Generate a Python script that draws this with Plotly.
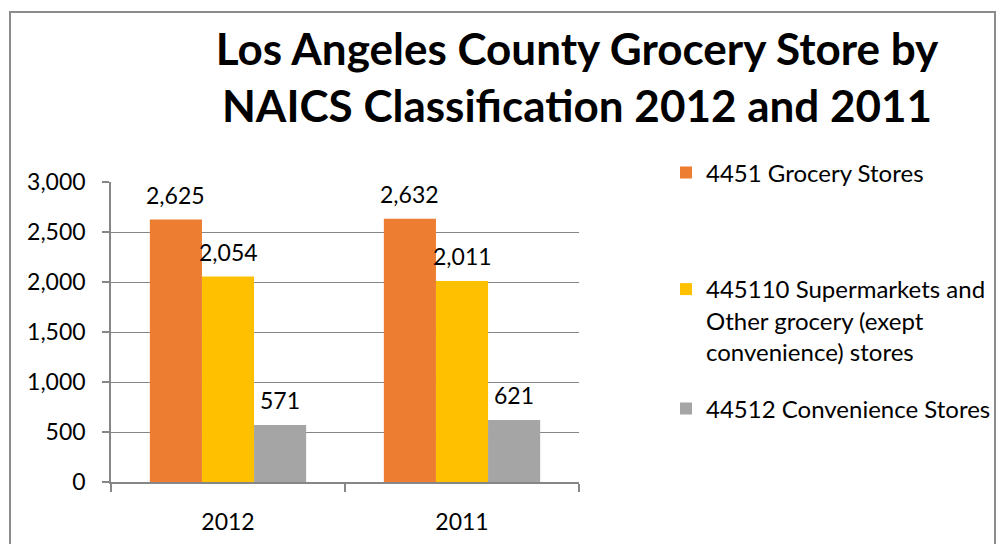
import plotly.graph_objects as go

categories = ["2012", "2011"]
series_names = [
    "4451 Grocery Stores",
    "445110 Supermarkets and<br>Other grocery (exept<br>convenience) stores",
    "44512 Convenience Stores",
]
grocery = [2625, 2632]
supermarkets = [2054, 2011]
convenience = [571, 621]
colors = ["#ED7D31", "#FFC000", "#A5A5A5"]
y_ticks = [0, 500, 1000, 1500, 2000, 2500, 3000]
title_text = "Los Angeles County Grocery Store by<br>NAICS Classification 2012 and 2011"

W, H = 1005, 544
L, R, T, B = 111, 579, 182, 482  # plot area in pixels
BARGAP = 0.332


def px_x(x):
    return (x - L) / (R - L)


def px_y(y):
    return (B - y) / (B - T)


FONT = "Lato"
fig = go.Figure()
legend_ids = ["legend", "legend2", "legend3"]
all_vals = [grocery, supermarkets, convenience]
for name, vals, col, lg in zip(series_names, all_vals, colors, legend_ids):
    fig.add_trace(go.Bar(
        x=categories, y=vals, name=name, marker_color=col, marker_line_width=0,
        legend=lg, hoverinfo="x+y+name",
    ))

# value labels above bars (shifted within the group by one bar width)
cat_px = (R - L) / len(categories)
bar_px = cat_px * (1 - BARGAP) / len(all_vals)
for i, vals in enumerate(all_vals):
    for ci, v in enumerate(vals):
        fig.add_annotation(x=ci, y=v, xref="x", yref="y", text=f"{v:,}", showarrow=False,
                           xshift=(i - 1) * bar_px, yanchor="bottom", yshift=9,
                           font=dict(size=23, color="#000000", family=FONT))

legend_common = dict(font=dict(size=24, color="#000000", family=FONT), bgcolor="rgba(0,0,0,0)",
                     xanchor="left", itemwidth=30, borderwidth=0)
fig.update_layout(
    width=W, height=H,
    margin=dict(l=L, r=W - R, t=T, b=H - B, pad=0, autoexpand=False),
    paper_bgcolor="white", plot_bgcolor="white",
    barmode="group", bargap=BARGAP, bargroupgap=0,
    title=dict(text=title_text, x=px_x(577), xref="paper", xanchor="center",
               y=1 - 65 / H, yanchor="top",
               font=dict(size=44, color="#000000", family=FONT, weight="bold")),
    legend=dict(x=px_x(666), y=px_y(173), yanchor="middle", **legend_common),
    legend2=dict(x=px_x(666), y=px_y(267), yanchor="top", valign="top", **legend_common),
    legend3=dict(x=px_x(666), y=px_y(409), yanchor="middle", **legend_common),
    showlegend=True,
    xaxis=dict(type="category", range=[-0.5, len(categories) - 0.5], showline=True,
               linecolor="#868686", linewidth=1.5, ticks="outside",
               tickson="boundaries", ticklen=8, tickcolor="#868686", tickwidth=1.5, ticklabelstandoff=19,
               tickangle=0, automargin=False,
               tickfont=dict(size=23, color="#000000", family=FONT), showgrid=False),
    yaxis=dict(range=[0, 3000], tickvals=y_ticks, ticktext=[f"{v:,}" for v in y_ticks],
               showline=True, linecolor="#868686", linewidth=1.5, ticks="outside", ticklen=7,
               tickcolor="#868686", tickwidth=1.5, showgrid=True, gridcolor="#868686", gridwidth=1,
               ticklabelstandoff=12, automargin=False,
               tickfont=dict(size=23, color="#000000", family=FONT), zeroline=False),
    shapes=[dict(type="rect", xref="paper", yref="paper",
                 x0=px_x(10), x1=px_x(995), y0=px_y(560), y1=px_y(12),
                 line=dict(color="#8C8C8C", width=2), fillcolor="rgba(0,0,0,0)", layer="below")],
)

fig.write_html("out.html", config={"displayModeBar": False},
               post_script="document.body.style.margin='0';")
